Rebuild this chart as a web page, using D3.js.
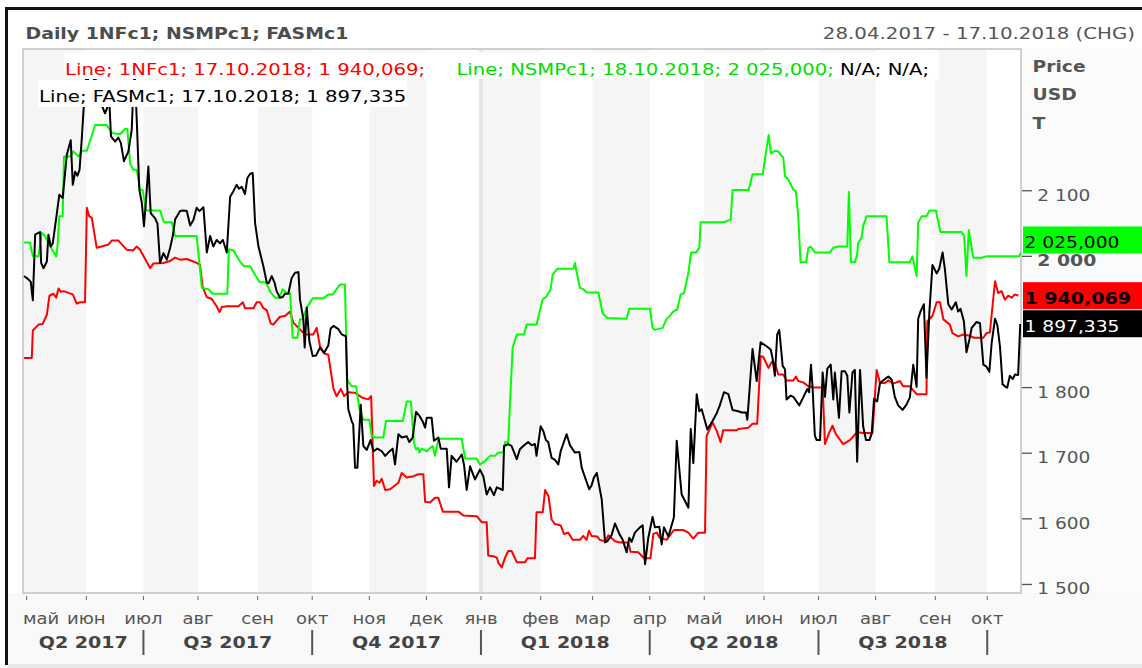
<!DOCTYPE html>
<html>
<head>
<meta charset="utf-8">
<script src="https://cdn.jsdelivr.net/npm/d3@7/dist/d3.min.js"></script>
<style>
  body { margin: 0; background: #fff; }
  text { font-family: "DejaVu Sans", Verdana, sans-serif; }
</style>
</head>
<body>
<script>
// Daily 1NFc1 / NSMPc1 / FASMc1, 28.04.2017 - 17.10.2018
// x values are trading-day numbers counted from 28.04.2017 (= 0)

const monthLabels = ["май", "июн", "июл", "авг", "сен", "окт", "ноя", "дек", "янв",
                     "фев", "мар", "апр", "май", "июн", "июл", "авг", "сен", "окт"];
const quarterLabels = ["Q2 2017", "Q3 2017", "Q4 2017", "Q1 2018", "Q2 2018", "Q3 2018"];
// 1 900 sits under the value tags, so it is not labelled
const priceTicks = [1500, 1600, 1700, 1800, 2000, 2100];

const seriesNames = ["1NFc1", "NSMPc1", "FASMc1"];
const lastDates = ["17.10.2018", "18.10.2018", "17.10.2018"];
const lastValues = [1940.069, 2025.000, 1897.335];

const red1NF = [
  [0,1845],[3,1845],[3.4,1887],[5.6,1896],[7.2,1897],[8.8,1911],[9.8,1940],[11.3,1943],[12.4,1937],[13.3,1951],
  [14.2,1946],[15.2,1947],[18.8,1942],[20.3,1928],[21.6,1930],[23.5,1930],[24.2,2074],[25.1,2061],[26.1,2059],[28,2013],
  [29.9,2015],[32.5,2018],[33.8,2024],[36.4,2024],[39.6,2010],[42.1,2009],[43.4,2015],[44.7,2010],[48.6,1982],[49.8,1989],
  [53.7,1990],[56.3,1993],[58.2,1998],[60.1,1995],[62.7,1996],[64,1994],[66.5,1990],[67.8,1987],[68.8,1954],[70.4,1938],
  [72.3,1935],[74.2,1924],[75.3,1915],[76.2,1923],[78.1,1924],[82.6,1924],[84.3,1930],[85.1,1921],[88.4,1921],[89.6,1930],
  [90.9,1930],[92.2,1921],[93.5,1918],[95,1898],[96,1896],[98.6,1908],[100.5,1909],[102.5,1916],[103.7,1899],[105.7,1891],
  [108.2,1881],[111.4,1881],[112.7,1891],[114,1863],[115.6,1852],[117.2,1850],[119.2,1798],[120.4,1787],[122,1798],[123.3,1787],
  [124.9,1793],[127.5,1792],[130.1,1785],[132.6,1782],[133.7,1787],[134.8,1650],[135.8,1658],[136.9,1655],[137.8,1661],[139.1,1644],
  [141,1645],[144.2,1655],[145.5,1670],[147.4,1663],[150,1665],[151.9,1668],[153.8,1668],[154.5,1626],[156.4,1625],[158.3,1632],
  [159.6,1632],[161.3,1611],[167.3,1611],[169.2,1605],[174.4,1604],[176.3,1595],[178.2,1595],[178.8,1544],[180.8,1543],[182.1,1541],
  [182.7,1533],[184,1526],[185.3,1541],[186.5,1551],[187.8,1551],[189.8,1534],[193,1534],[193.9,1540],[196.8,1540],[197.4,1610],
  [199.8,1610],[200.7,1644],[202,1635],[203.2,1599],[204.5,1592],[206.7,1590],[208,1577],[209.6,1579],[211.3,1568],[214.1,1568],
  [215.4,1574],[216.7,1568],[217.6,1582],[218.6,1574],[220.8,1573],[221.8,1568],[223.8,1566],[225.1,1575],[227.6,1566],[229.5,1564],
  [232.8,1564],[233.6,1550],[236.6,1549],[238.8,1540],[241.3,1540],[242.4,1577],[243.7,1579],[244.9,1571],[247.5,1568],[250.3,1583],
  [253.9,1583],[255.9,1579],[257.8,1570],[259.7,1579],[262.3,1579],[262.9,1726],[265.2,1747],[266.8,1734],[268.3,1717],[269.3,1735],
  [274.5,1735],[275.1,1737],[279,1739],[280.6,1745],[282.4,1745],[283.7,1848],[284.7,1847],[286.7,1830],[288,1839],[289.2,1838],
  [290.5,1820],[292.4,1820],[293.7,1811],[296.3,1811],[297.3,1817],[298.2,1810],[300.1,1808],[302.1,1802],[304.6,1800],[307.6,1800],
  [308.5,1714],[310.1,1731],[311.4,1742],[312.7,1729],[315.5,1714],[318.1,1720],[320.9,1732],[323.2,1731],[326.8,1731],[328.4,1827],
  [329.7,1807],[331.6,1807],[332.9,1811],[334.8,1806],[337.4,1810],[338.6,1802],[341.2,1802],[343.8,1790],[347.6,1790],[347.9,1901],
  [349.9,1909],[351.5,1930],[352.8,1930],[354.1,1904],[356.6,1896],[357.6,1883],[359.8,1878],[361.8,1881],[364.3,1879],[365.9,1876],
  [369.5,1876],[370.7,1883],[372,1884],[374,1962],[375.2,1944],[376.5,1947],[377.8,1934],[379.1,1940],[380.4,1937],[381.6,1942],
  [383,1940]
];

const greenNSMP = [
  [0,2021],[2.3,2021],[3.4,2000],[5.6,2000],[6.8,2036],[8.1,2031],[10.1,2015],[12.4,2000],[12.9,2015],[13.6,2061],
  [14.9,2061],[15.4,2152],[17.8,2152],[19,2160],[21,2152],[22.3,2161],[24.2,2161],[27.4,2200],[31.9,2200],[33.8,2188],
  [37,2186],[38.9,2194],[39.8,2194],[40.9,2141],[42.1,2132],[43.4,2132],[44.7,2102],[45.7,2101],[47,2070],[52.4,2070],
  [53.9,2052],[56.9,2052],[58.2,2031],[66.5,2031],[68.5,1952],[71,1950],[72.7,1943],[78.3,1943],[78.9,2011],[80.7,2009],
  [83.2,1992],[84.8,1985],[87.1,1985],[89,1972],[90.7,1961],[93.2,1960],[95,1945],[96.7,1937],[98.4,1937],[99.6,1950],
  [101.2,1944],[102.5,1943],[103.5,1876],[105.3,1876],[106.3,1904],[107.3,1904],[108.9,1922],[111.2,1936],[115.3,1936],[117.2,1942],
  [118.9,1942],[121.7,1957],[123.6,1957],[124.5,1812],[126.2,1802],[127.9,1802],[129.2,1767],[130.7,1751],[133,1751],[133.9,1726],
  [135.2,1724],[138.4,1724],[139.4,1749],[145.9,1749],[147.4,1779],[149,1779],[150.2,1716],[151,1706],[151.9,1708],[152.3,1701],
  [153.2,1707],[155.1,1703],[156.4,1708],[157.4,1711],[158.3,1696],[159.6,1722],[168.6,1722],[169.9,1692],[174.3,1692],[175.6,1683],
  [176.9,1686],[179.5,1696],[181.4,1696],[182.7,1701],[184.6,1701],[185.3,1717],[186.5,1717],[187.2,1777],[188.2,1861],[189.8,1881],
  [192.6,1881],[193.6,1896],[197.4,1896],[199.8,1935],[201,1938],[202.8,1949],[203.6,1972],[205.4,1981],[211.6,1981],[212.2,1990],
  [212.9,1975],[214.1,1952],[215.4,1950],[216.7,1945],[221.2,1945],[222.9,1913],[224.7,1906],[232.1,1905],[233.1,1920],[241.1,1920],
  [242.1,1891],[243,1888],[246,1891],[247.5,1905],[248.5,1908],[250.1,1916],[251.6,1919],[252.9,1942],[254.2,1944],[255.9,1975],
  [256.9,2006],[258.8,2006],[260.1,2013],[260.6,2052],[269.6,2052],[272.2,2056],[272.9,2101],[279.1,2101],[280.6,2125],[284.5,2125],
  [286.8,2185],[287.7,2157],[289.2,2161],[290.5,2160],[291.8,2153],[292.4,2151],[293.1,2122],[294.4,2117],[296.3,2102],[297.3,2099],
  [298.2,2061],[299.1,1991],[301.2,1991],[302.1,2013],[303,2015],[304.6,2006],[310.4,2006],[311.7,2013],[313.6,2015],[317.1,2015],
  [317.7,2098],[318.5,1991],[320,1991],[320.9,2003],[321.3,2021],[322.6,2028],[323.2,2046],[324.5,2061],[332.2,2061],[333.3,1991],
  [341.2,1991],[342.2,2000],[343.8,1970],[344.4,2051],[345.7,2061],[347.6,2061],[348.7,2070],[351.2,2070],[353,2037],[361.1,2037],
  [362.1,2031],[363,1970],[363.9,2040],[365.6,1998],[368.8,1998],[370.7,2000],[383.3,2000],[384,2006]
];

const blackFASM = [
  [0,1970],[1.7,1965],[2.6,1961],[3.4,1933],[4.3,2033],[5.6,2036],[6.2,2037],[6.6,1990],[7.5,1982],[8.8,1992],
  [9.4,2033],[10.3,2015],[11.1,2020],[12.6,2064],[13.6,2094],[14.9,2089],[16.5,2155],[18,2177],[18.8,2109],[19.7,2129],
  [20.6,2123],[21.4,2132],[22.3,2182],[23.2,2240],[24,2275],[25.5,2262],[27.5,2272],[28.5,2245],[31.2,2218],[32,2226],
  [32.7,2250],[33.5,2183],[35.1,2175],[36.3,2181],[37.3,2173],[38.5,2145],[40.2,2160],[41.5,2193],[42.1,2255],[42.6,2280],
  [43,2250],[43.6,2190],[44.4,2102],[45.4,2081],[46.2,2046],[47,2086],[47.9,2137],[48.8,2066],[50.5,2058],[51.4,2050],
  [52.4,1990],[53.7,2005],[55,1995],[56.3,2013],[57.3,2031],[58.2,2056],[60.1,2069],[61.4,2070],[62.7,2069],[64,2047],
  [65.2,2055],[66.5,2074],[67.6,2069],[69.1,2075],[70.4,2006],[71.7,2031],[72.9,2015],[74.2,2025],[75.5,2020],[76.6,2025],
  [78.1,2006],[79.4,2091],[80.6,2099],[81.9,2109],[82.8,2103],[83.9,2106],[85.1,2095],[86,2119],[87.1,2126],[88.1,2127],
  [89,2051],[90.3,2015],[92.2,1985],[93.5,1960],[94.2,1959],[95.4,1970],[96.5,1960],[97.3,1947],[98.6,1937],[99.6,1938],
  [100.5,1943],[101.8,1943],[103.1,1967],[104.4,1975],[105.7,1976],[106.3,1934],[107.6,1904],[108.1,1861],[108.9,1922],[109.9,1871],
  [111.2,1848],[112.5,1849],[114,1861],[115.6,1853],[117.2,1864],[118.1,1890],[119.2,1894],[121.1,1889],[122.4,1881],[124,1878],
  [124.5,1802],[124.9,1767],[126.2,1749],[126.8,1744],[127.5,1678],[128.4,1678],[129.7,1774],[130.7,1711],[132,1705],[133.5,1720],
  [134.6,1703],[136.1,1707],[137.8,1703],[139.1,1696],[140.3,1701],[142,1707],[142.9,1683],[144.2,1729],[145.5,1724],[147.4,1726],
  [148.4,1717],[149.7,1724],[151,1763],[152.3,1757],[153.6,1748],[154.5,1739],[155.1,1754],[157,1754],[157.9,1719],[159.6,1724],
  [160.5,1707],[162.8,1707],[163.7,1648],[164.7,1696],[166.6,1687],[168.6,1698],[169.5,1682],[170.5,1644],[171.8,1680],[173.7,1660],
  [175.6,1675],[176.9,1665],[178.2,1637],[179.5,1648],[181,1636],[182.1,1648],[184.4,1644],[184.9,1711],[186.5,1714],[187.8,1711],
  [189.8,1691],[191,1706],[192.3,1711],[194.2,1717],[195.5,1712],[196.8,1714],[197.4,1696],[199,1741],[200,1734],[201,1720],
  [201.9,1717],[203.2,1693],[204.5,1690],[205.8,1683],[206.7,1703],[209,1729],[210.3,1712],[212.2,1701],[213.9,1702],[214.8,1678],
  [216.1,1663],[217.7,1645],[218.6,1651],[219.5,1663],[220.6,1670],[222.5,1630],[223.8,1564],[224.7,1566],[226.3,1575],[227.6,1593],
  [229.3,1577],[230.6,1568],[232.1,1549],[233.1,1571],[234,1565],[235.3,1579],[237.2,1587],[238.3,1590],[239.2,1531],[240.4,1570],
  [242.1,1603],[243,1587],[244.7,1588],[245.6,1561],[246.5,1587],[248.2,1573],[250.3,1602],[251.4,1719],[253.3,1637],[255.9,1617],
  [256.8,1737],[257.8,1685],[259.1,1790],[260.1,1764],[261,1767],[263.2,1736],[265.2,1749],[266.8,1761],[268,1773],[269.6,1793],
  [271.3,1790],[272.9,1766],[275.1,1764],[276.4,1762],[278.1,1762],[278.6,1751],[280.6,1859],[282.2,1810],[283.7,1869],[286,1863],
  [287.6,1858],[288.3,1845],[289.2,1818],[290.1,1881],[290.9,1888],[292.2,1833],[293.1,1828],[293.7,1782],[295.3,1788],[296.5,1785],
  [298.6,1773],[300.1,1785],[301.7,1798],[302.4,1793],[303.1,1835],[303.7,1802],[304.6,1727],[305.3,1720],[306.6,1720],[307.6,1823],
  [308.5,1786],[309.4,1829],[310.7,1835],[311.7,1782],[312.3,1823],[313.9,1754],[314.9,1825],[316.2,1825],[317.1,1818],[317.9,1762],
  [319.1,1823],[320,1827],[320.9,1687],[322,1827],[323.2,1741],[324.3,1720],[325.6,1720],[326.5,1730],[327.4,1783],[328.6,1779],
  [329.7,1807],[331.6,1813],[332.9,1817],[334.2,1812],[335.4,1786],[336.7,1773],[338.4,1766],[339.9,1774],[341.2,1785],[342.5,1835],
  [343.8,1801],[344.4,1905],[345.3,1916],[346.6,1927],[347.6,1815],[348.7,1914],[349.9,1987],[351.5,1974],[352.5,1981],[353.8,2006],
  [354.7,1980],[356,1927],[357.3,1919],[358.9,1930],[359.8,1916],[360.7,1920],[362,1901],[363,1854],[364.1,1873],[365,1891],
  [366.9,1900],[368.2,1898],[369.5,1835],[370.7,1832],[371.8,1824],[372.7,1868],[374,1905],[374.9,1895],[375.9,1863],[376.9,1805],
  [377.8,1802],[378.7,1800],[379.7,1818],[380.8,1813],[381.7,1820],[382.9,1819],[383.7,1897]
];

const seriesData = [red1NF, greenNSMP, blackFASM];
const seriesColors = ["#ff0000", "#00ff00", "#000000"];
const legendColors = ["#ff0000", "#00dd00", "#000000"];

let width = 1142, height = 668;
let plot = null;
let svg = null;
let x, y = null;
let tradingDays = [];
let monthStarts = [];

setupCanvas();
setupCalendar();
setupScales();
drawFrame();
drawBands();
drawLines();
drawLegend();
drawPriceAxis();
drawTimeAxis();

function setupCanvas() {
  plot = {left: 23, top: 49, right: 1021, bottom: 593};
  svg = d3.select("body").append("svg")
    .attr("width", width)
    .attr("height", height);
}

// weekday calendar, the chart skips weekends
function setupCalendar() {
  let d = new Date(2017, 3, 28);
  const end = new Date(2018, 9, 18);
  while (d <= end) {
    const wd = d.getDay();
    if (wd !== 0 && wd !== 6) tradingDays.push(new Date(d));
    d.setDate(d.getDate() + 1);
  }
  for (let i = 0; i < monthLabels.length; i++) {
    const yr = 2017 + Math.floor((4 + i) / 12);
    const mo = (4 + i) % 12;
    monthStarts.push(tradingDays.findIndex(t => t.getFullYear() === yr && t.getMonth() === mo));
  }
}

function setupScales() {
  x = d3.scaleLinear()
    .domain([0, tradingDays.length - 1])
    .range([plot.left + 1, plot.right]);
  y = d3.scaleLinear()
    .domain([1487, 2316])
    .range([plot.bottom, plot.top]);
}

function addText(parent, px, py, str, opts) {
  opts = opts || {};
  return parent.append("text")
    .attr("transform", `translate(${px},${py}) scale(${opts.sx || 1.18},1)`)
    .attr("text-anchor", opts.anchor || "start")
    .style("font-size", (opts.size || 16) + "px")
    .style("font-weight", opts.bold ? "bold" : "normal")
    .attr("fill", opts.fill || "#555")
    .text(str);
}

function drawFrame() {
  // light panels around the plot
  svg.append("rect").attr("x", 8).attr("y", plot.bottom).attr("width", width).attr("height", height - plot.bottom).attr("fill", "#f9f9f9");
  svg.append("rect").attr("x", plot.right).attr("y", plot.top).attr("width", width - plot.right).attr("height", plot.bottom - plot.top).attr("fill", "#fbfbfb");
  svg.append("rect").attr("x", 8).attr("y", 664).attr("width", width).attr("height", 4).attr("fill", "#e8e8e8");
  // black frame (top and left)
  svg.append("rect").attr("x", 5).attr("y", 7).attr("width", width - 5).attr("height", 3).attr("fill", "#111");
  svg.append("rect").attr("x", 5).attr("y", 7).attr("width", 3).attr("height", 658).attr("fill", "#111");

  addText(svg, 25.5, 39, "Daily " + seriesNames.join("; "), {bold: true, fill: "#4d4d4d", sx: 1.18});
  addText(svg, 1135, 39, "28.04.2017 - 17.10.2018 (CHG)", {size: 16.5, fill: "#555", anchor: "end", sx: 1.2});

  addText(svg, 1032.5, 71.7, "Price", {bold: true, fill: "#555", sx: 1.17});
  addText(svg, 1032.5, 100, "USD", {bold: true, fill: "#555", sx: 1.17});
  addText(svg, 1032.5, 128.5, "T", {bold: true, fill: "#555", sx: 1.17});
}

function drawBands() {
  const g = svg.append("g");
  monthStarts.forEach(function(m, i) {
    const x0 = i === 0 ? plot.left : x(m);
    const x1 = i === monthStarts.length - 1 ? plot.right : x(monthStarts[i + 1]);
    if (i % 2 === 0) {
      g.append("rect").attr("x", x0).attr("y", plot.top).attr("width", x1 - x0)
        .attr("height", plot.bottom - plot.top).attr("fill", "#f5f5f5");
    }
  });
  // year change
  const jan = monthStarts[monthLabels.indexOf("янв")];
  g.append("rect").attr("x", x(jan) - 2).attr("y", plot.top).attr("width", 4)
    .attr("height", plot.bottom - plot.top).attr("fill", "#e6e6e6");

  svg.append("rect")
    .attr("x", plot.left).attr("y", plot.top)
    .attr("width", plot.right - plot.left).attr("height", plot.bottom - plot.top)
    .attr("fill", "none").attr("stroke", "#cfcfcf").attr("stroke-width", 2);
}

function drawLines() {
  svg.append("clipPath").attr("id", "clip")
    .append("rect").attr("x", plot.left).attr("y", plot.top)
    .attr("width", plot.right - plot.left).attr("height", plot.bottom - plot.top);

  const line = d3.line()
    .x(function(d) { return x(d[0]); })
    .y(function(d) { return y(d[1]); });

  const g = svg.append("g").attr("clip-path", "url(#clip)");
  seriesData.forEach(function(s, i) {
    g.append("path")
      .datum(s)
      .attr("d", line)
      .attr("fill", "none")
      .attr("stroke", seriesColors[i])
      .attr("stroke-width", 2)
      .attr("stroke-linejoin", "round");
  });
}

function fmt(v) {
  // 1940.069 -> "1 940,069"
  const s = v.toFixed(3).replace(".", ",");
  return s.replace(/^(\d)(\d{3})/, "$1 $2");
}

function drawLegend() {
  const g = svg.append("g");
  g.append("rect").attr("x", 64).attr("y", 52).attr("width", 366).attr("height", 27).attr("fill", "#fff");
  g.append("rect").attr("x", 452).attr("y", 52).attr("width", 487).attr("height", 27).attr("fill", "#fff");
  g.append("rect").attr("x", 38).attr("y", 80).attr("width", 369).attr("height", 27).attr("fill", "#fff");

  const label = i => `Line; ${seriesNames[i]}; ${lastDates[i]}; ${fmt(lastValues[i])};`;
  addText(g, 65, 75, label(0), {size: 16.5, fill: legendColors[0], sx: 1.19});
  const t = addText(g, 456.4, 75, "", {size: 16.5, fill: legendColors[1], sx: 1.19});
  t.append("tspan").text(label(1));
  t.append("tspan").attr("fill", "#000").text(" N/A; N/A;");
  addText(g, 39, 101.7, label(2).slice(0, -1), {size: 16.5, fill: legendColors[2], sx: 1.19});
}

function drawPriceAxis() {
  const g = svg.append("g");
  priceTicks.forEach(function(v) {
    g.append("line").attr("x1", plot.right + 1).attr("x2", plot.right + 11)
      .attr("y1", y(v)).attr("y2", y(v)).attr("stroke", "#555").attr("stroke-width", 1.3);
    addText(g, 1037.3, y(v) + 10, d3.format(",")(v).replace(",", " "),
      {bold: v === 2000, fill: "#555", sx: v === 2000 ? 1.18 : 1.16});
  });

  // last value tags
  const tagFill = ["#ff0000", "#00ff00", "#000000"];
  const tagText = ["#000", "#000", "#fff"];
  [1, 0, 2].forEach(function(i) {
    const cy = y(lastValues[i]);
    g.append("rect").attr("x", plot.right + 2).attr("y", cy - 13.5)
      .attr("width", width - plot.right).attr("height", 27).attr("fill", tagFill[i]);
    addText(g, plot.right + 3.5, cy + 8, fmt(lastValues[i]),
      {bold: i === 0, fill: tagText[i], sx: i === 0 ? 1.19 : 1.167});
  });
}

function drawTimeAxis() {
  const g = svg.append("g");
  monthStarts.forEach(function(m, i) {
    const mx = x(m);
    g.append("line").attr("x1", mx).attr("x2", mx).attr("y1", 596).attr("y2", 600)
      .attr("stroke", "#666").attr("stroke-width", 1);
    const t = addText(g, mx, 624, monthLabels[i], {size: 15.5, fill: "#555", anchor: "middle", sx: 1.16});
    const w = t.node().getComputedTextLength() * 1.16;
    if (mx - w / 2 < plot.left) t.attr("transform", `translate(${plot.left + w / 2},624) scale(1.16,1)`);
  });

  // quarter separators at Jul, Oct, Jan, Apr ...
  const qStarts = monthStarts.filter((m, i) => (4 + i) % 3 === 0);
  qStarts.forEach(function(m) {
    g.append("line").attr("x1", x(m)).attr("x2", x(m)).attr("y1", 630).attr("y2", 655)
      .attr("stroke", "#555").attr("stroke-width", 2);
  });
  const edges = [plot.left].concat(qStarts.map(m => x(m)));
  quarterLabels.forEach(function(q, i) {
    addText(g, (edges[i] + edges[i + 1]) / 2, 648.3, q, {bold: true, fill: "#444", anchor: "middle", sx: 1.19});
  });
}
</script>
</body>
</html>
